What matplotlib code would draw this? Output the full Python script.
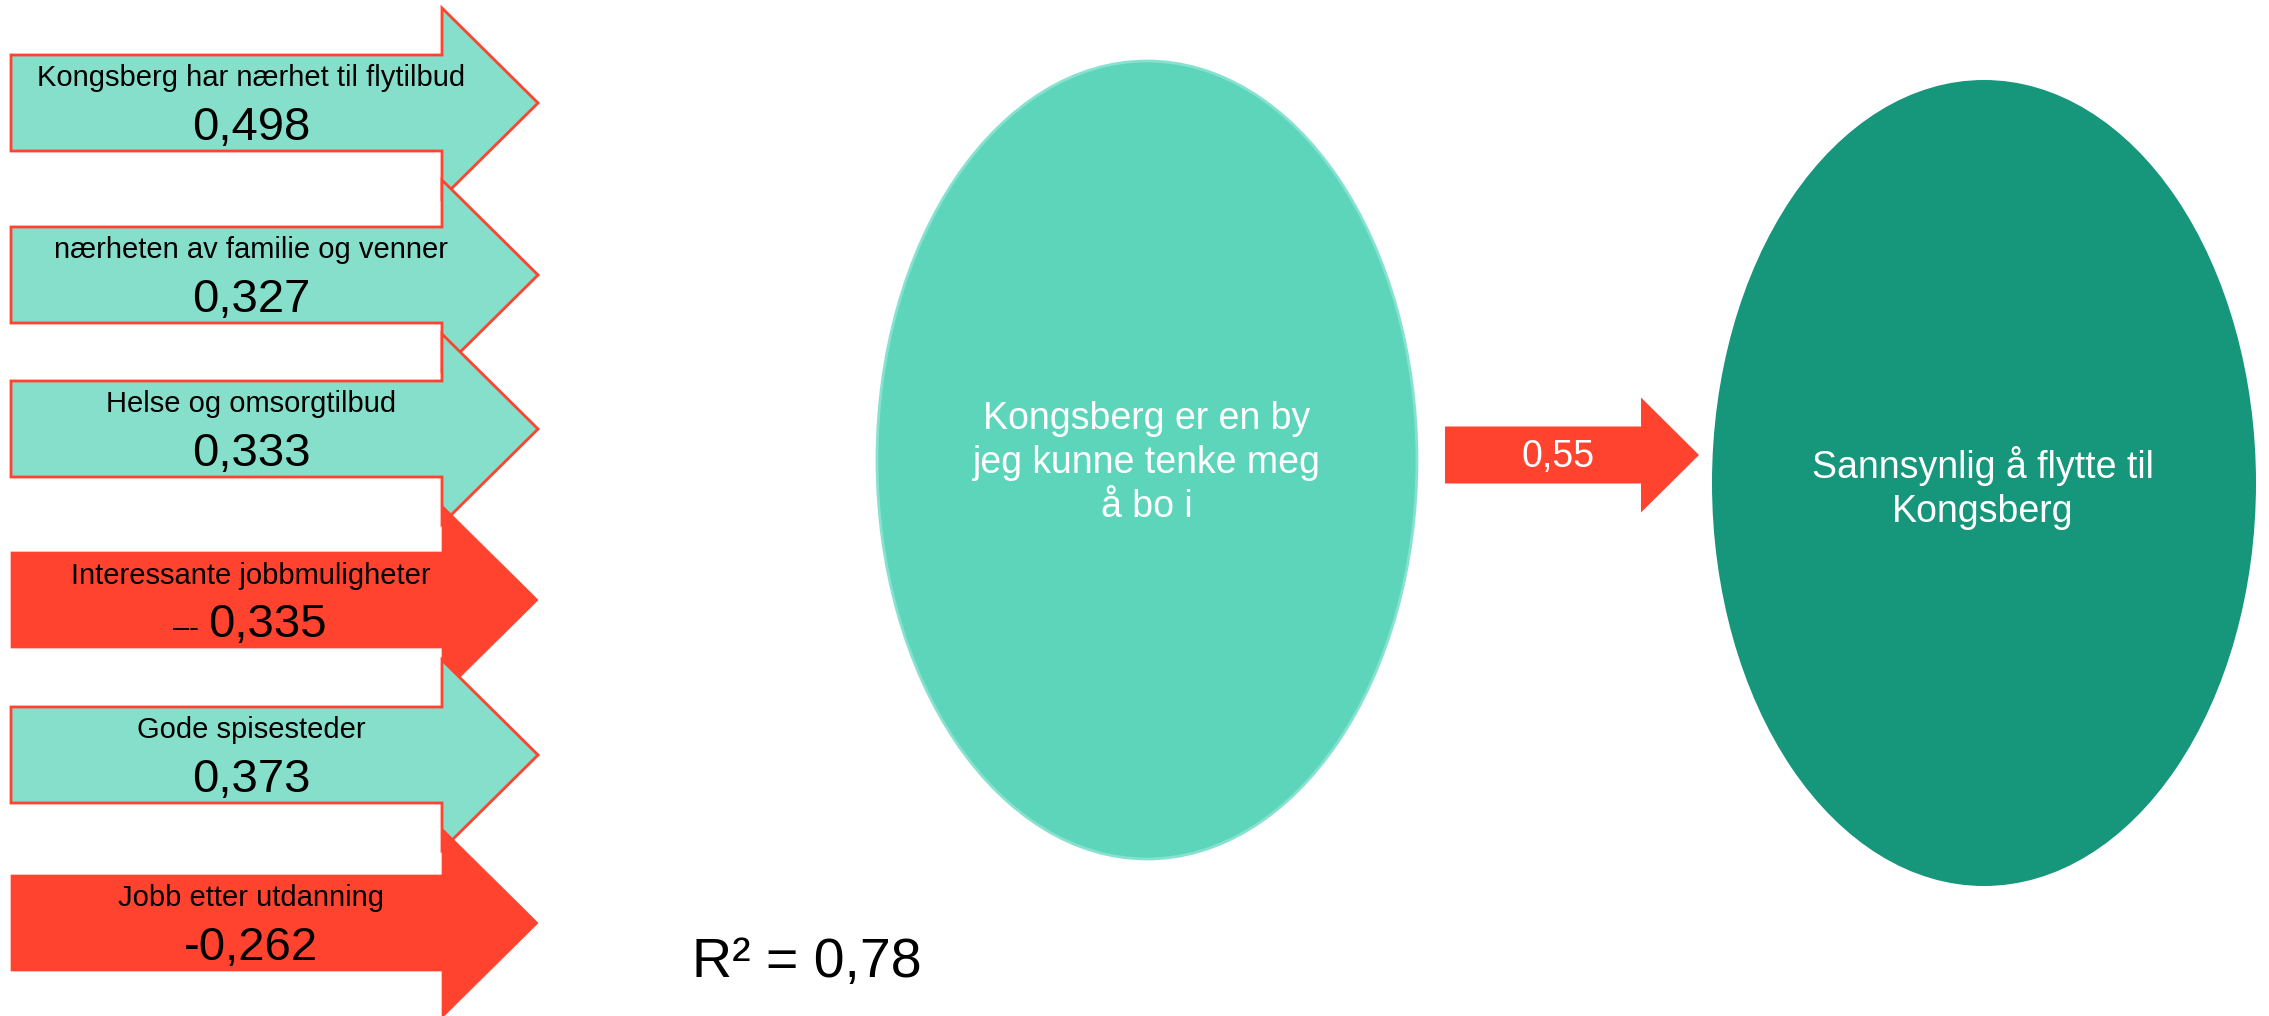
import matplotlib.pyplot as plt
from matplotlib.patches import Polygon, Ellipse

# Factors and their path coefficients
factors = ["Kongsberg har nærhet til flytilbud", "nærheten av familie og venner",
           "Helse og omsorgtilbud", "Interessante jobbmuligheter",
           "Gode spisesteder", "Jobb etter utdanning"]
coefs = [0.498, 0.327, 0.333, -0.335, 0.373, -0.262]
# the slide shows a stray small dash before one of the negative values
small_prefix = ["", "", "", "–-", "", ""]

mediator = "Kongsberg er en by\njeg kunne tenke meg\nå bo i"
outcome = "Sannsynlig å flytte til\nKongsberg"
path_coef = 0.55
r_squared = 0.78

TEAL_LIGHT = "#85DFCB"
TEAL_MID = "#5DD5BB"
TEAL_DARK = "#16967A"
RED = "#FF432E"

plt.rcParams['font.family'] = ['Liberation Sans', 'DejaVu Sans']


def fmt(v, signed=True):
    s = f"{abs(v):.3f}".replace(".", ",")
    return ("-" + s) if (signed and v < 0) else s


def arrow_pts(x0, xb, xt, yc, hb, hh):
    return [(x0, yc - hb), (xb, yc - hb), (xb, yc - hh), (xt, yc),
            (xb, yc + hh), (xb, yc + hb), (x0, yc + hb)]


fig = plt.figure(figsize=(22.69, 10.16), dpi=100)
ax = fig.add_axes([0, 0, 1, 1])
ax.set_xlim(0, 2269)
ax.set_ylim(1016, 0)
ax.axis('off')

# left column of factor arrows (layout: vertical centres in pixels)
centres = [103, 275, 429, 600, 755, 923]
for i, (name, v) in enumerate(zip(factors, coefs)):
    yc = centres[i]
    pts = arrow_pts(11, 442, 538, yc, 48, 95)
    if v < 0:
        ax.add_patch(Polygon(pts, closed=True, fc=RED, ec=RED, lw=0.5, zorder=2 + i))
    else:
        ax.add_patch(Polygon(pts, closed=True, fc=TEAL_LIGHT, ec=RED, lw=2.0,
                             joinstyle='miter', zorder=2 + i))
    ax.text(251, yc - 16.5, name, ha='center', va='baseline', fontsize=21,
            color='black', zorder=20)
    if small_prefix[i]:
        ax.text(267, yc + 37, fmt(v, signed=False), ha='center', va='baseline',
                fontsize=34, zorder=20)
        ax.text(199, yc + 37, small_prefix[i], ha='right', va='baseline',
                fontsize=21, zorder=20)
    else:
        ax.text(251, yc + 37, fmt(v), ha='center', va='baseline', fontsize=34,
                zorder=20)

# mediator and outcome ellipses
ax.add_patch(Ellipse((1147, 460), 540, 798, fc=TEAL_MID, ec="#86E2CE", lw=2, zorder=2))
ax.text(1147, 463, mediator, ha='center', va='center', fontsize=27,
        color='white', linespacing=1.28, zorder=5)

ax.add_patch(Ellipse((1984, 483), 544, 806, fc=TEAL_DARK, ec='none', zorder=2))
ax.text(1983, 488, outcome, ha='center', va='center', fontsize=27,
        color='white', linespacing=1.25, zorder=5)

# path arrow between mediator and outcome
ax.add_patch(Polygon(arrow_pts(1445, 1641, 1699, 455, 28.5, 57.5), closed=True,
                     fc=RED, ec='none', zorder=3))
ax.text(1558, 457, f"{path_coef:.2f}".replace(".", ","), ha='center', va='center',
        fontsize=27, color='white', zorder=5)

# explained variance
ax.text(807, 963, f"R² = {r_squared:.2f}".replace(".", ","), ha='center',
        va='center', fontsize=40, color='black')

fig.savefig("out.png", dpi=100, facecolor='white')
